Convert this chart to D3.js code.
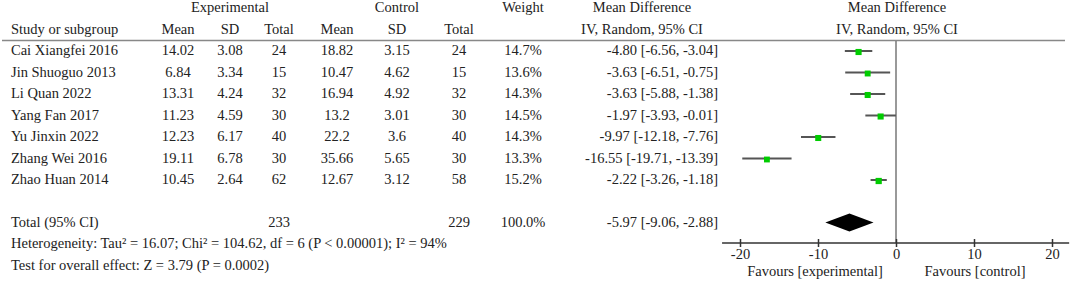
<!DOCTYPE html>
<html>
<head>
<meta charset="utf-8">
<script src="https://cdn.jsdelivr.net/npm/d3@7"></script>
<style>
  body { margin: 0; background: #fff; }
  svg text { font-family: "Liberation Serif", "Times New Roman", serif; font-size: 14.5px; fill: #222; }
</style>
</head>
<body>
<div id="parentdiv" style="width:1072px;height:284px"><svg id="forest"></svg></div>
<script>
const width = 1072;
const height = 284;

// study data
var studies = ["Cai Xiangfei 2016", "Jin Shuoguo 2013", "Li Quan 2022", "Yang Fan 2017", "Yu Jinxin 2022", "Zhang Wei 2016", "Zhao Huan 2014"];
var expMean = ["14.02", "6.84", "13.31", "11.23", "12.23", "19.11", "10.45"];
var expSD = ["3.08", "3.34", "4.24", "4.59", "6.17", "6.78", "2.64"];
var expTotal = [24, 15, 32, 30, 40, 30, 62];
var ctlMean = ["18.82", "10.47", "16.94", "13.2", "22.2", "35.66", "12.67"];
var ctlSD = ["3.15", "4.62", "4.92", "3.01", "3.6", "5.65", "3.12"];
var ctlTotal = [24, 15, 32, 30, 40, 30, 58];
var weights = [14.7, 13.6, 14.3, 14.5, 14.3, 13.3, 15.2];
var md = [-4.80, -3.63, -3.63, -1.97, -9.97, -16.55, -2.22];
var lower = [-6.56, -6.51, -5.88, -3.93, -12.18, -19.71, -3.26];
var upper = [-3.04, -0.75, -1.38, -0.01, -7.76, -13.39, -1.18];

// pooled
var total = {exp: 233, ctl: 229, weight: "100.0%", md: -5.97, lo: -9.06, hi: -2.88};
var hetText = "Heterogeneity: Tau\u00b2 = 16.07; Chi\u00b2 = 104.62, df = 6 (P < 0.00001); I\u00b2 = 94%";
var effectText = "Test for overall effect: Z = 3.79 (P = 0.0002)";
var tickValues = [-20, -10, 0, 10, 20];

var svg = d3.select("#forest")
    .attr("width", width)
    .attr("height", height);

var x = d3.scaleLinear().domain([-20, 20]).range([740, 1052]);
var y = d3.scaleLinear().domain([0, 1]).range([52, 73.5]);

// column positions
var cols = {em: 178, esd: 230, et: 279, cm: 337, csd: 397, ct: 459, w: 523, ci: 718};

function txt(xp, yp, s, anchor) {
    svg.append("text")
        .attr("x", xp)
        .attr("y", yp)
        .attr("text-anchor", anchor || "middle")
        .text(s);
}

function fmt(v) { return v.toFixed(2); }

// headers
txt(230, 12, "Experimental");
txt(397, 12, "Control");
txt(523, 12, "Weight");
txt(642, 12, "Mean Difference");
txt(897, 12, "Mean Difference");
txt(11, 34, "Study or subgroup", "start");
txt(cols.em, 34, "Mean");
txt(cols.esd, 34, "SD");
txt(cols.et, 34, "Total");
txt(cols.cm, 34, "Mean");
txt(cols.csd, 34, "SD");
txt(cols.ct, 34, "Total");
txt(642, 34, "IV, Random, 95% CI");
txt(897, 34, "IV, Random, 95% CI");

svg.append("line")
    .attr("x1", 2).attr("x2", 1065)
    .attr("y1", 40.5).attr("y2", 40.5)
    .attr("stroke", "#888")
    .attr("stroke-width", 1.5);

// zero line
svg.append("line")
    .attr("x1", x(0)).attr("x2", x(0))
    .attr("y1", 41).attr("y2", 243)
    .attr("stroke", "#777")
    .attr("stroke-width", 1.5);

// rows
studies.forEach(function (s, i) {
    var yy = y(i) + 3;
    txt(11, yy, s, "start");
    txt(cols.em, yy, expMean[i]);
    txt(cols.esd, yy, expSD[i]);
    txt(cols.et, yy, expTotal[i]);
    txt(cols.cm, yy, ctlMean[i]);
    txt(cols.csd, yy, ctlSD[i]);
    txt(cols.ct, yy, ctlTotal[i]);
    txt(cols.w, yy, weights[i].toFixed(1) + "%");
    txt(cols.ci, yy, fmt(md[i]) + " [" + fmt(lower[i]) + ", " + fmt(upper[i]) + "]", "end");
});

svg.selectAll(".ci")
    .data(studies)
    .enter()
    .append("line")
    .attr("class", "ci")
    .attr("x1", (d, i) => x(lower[i]))
    .attr("x2", (d, i) => x(upper[i]))
    .attr("y1", (d, i) => y(i) - 1)
    .attr("y2", (d, i) => y(i) - 1)
    .attr("stroke", "#555")
    .attr("stroke-width", 2);

svg.selectAll(".box")
    .data(studies)
    .enter()
    .append("rect")
    .attr("class", "box")
    .attr("x", (d, i) => x(md[i]) - Math.sqrt(weights[i]) * 0.8)
    .attr("y", (d, i) => y(i) - Math.sqrt(weights[i]) * 0.8)
    .attr("width", (d, i) => Math.sqrt(weights[i]) * 1.6)
    .attr("height", (d, i) => Math.sqrt(weights[i]) * 1.6)
    .attr("fill", "#00cc00");

// total row
txt(11, 227, "Total (95% CI)", "start");
txt(cols.et, 227, total.exp);
txt(cols.ct, 227, total.ctl);
txt(cols.w, 227, total.weight);
txt(cols.ci, 227, fmt(total.md) + " [" + fmt(total.lo) + ", " + fmt(total.hi) + "]", "end");
txt(11, 248, hetText, "start");
txt(11, 270, effectText, "start");

var dy = 222.5;
svg.append("path")
    .attr("d", "M" + x(total.lo) + "," + dy +
        "L" + x(total.md) + "," + (dy - 9) +
        "L" + x(total.hi) + "," + dy +
        "L" + x(total.md) + "," + (dy + 9) + "Z")
    .attr("fill", "#000");

// axis
var axisG = svg.append("g")
    .attr("transform", "translate(0,243)")
    .call(d3.axisBottom(x).tickValues(tickValues).tickSize(4).tickFormat(d => String(d)));
axisG.select(".domain").remove();
axisG.append("line")
    .attr("x1", x(-22.3)).attr("x2", x(22.2))
    .attr("stroke", "#333")
    .attr("stroke-width", 1.5);
axisG.selectAll(".tick line")
    .attr("y1", -4).attr("y2", 4)
    .attr("stroke", "#333")
    .attr("stroke-width", 1.5);
axisG.selectAll(".tick text")
    .attr("y", 0)
    .attr("dy", 16)
    .style("font-family", "\"Liberation Serif\", serif")
    .style("font-size", "14.5px")
    .attr("fill", "#222");

txt(815, 276, "Favours [experimental]");
txt(975, 276, "Favours [control]");
</script>
</body>
</html>
